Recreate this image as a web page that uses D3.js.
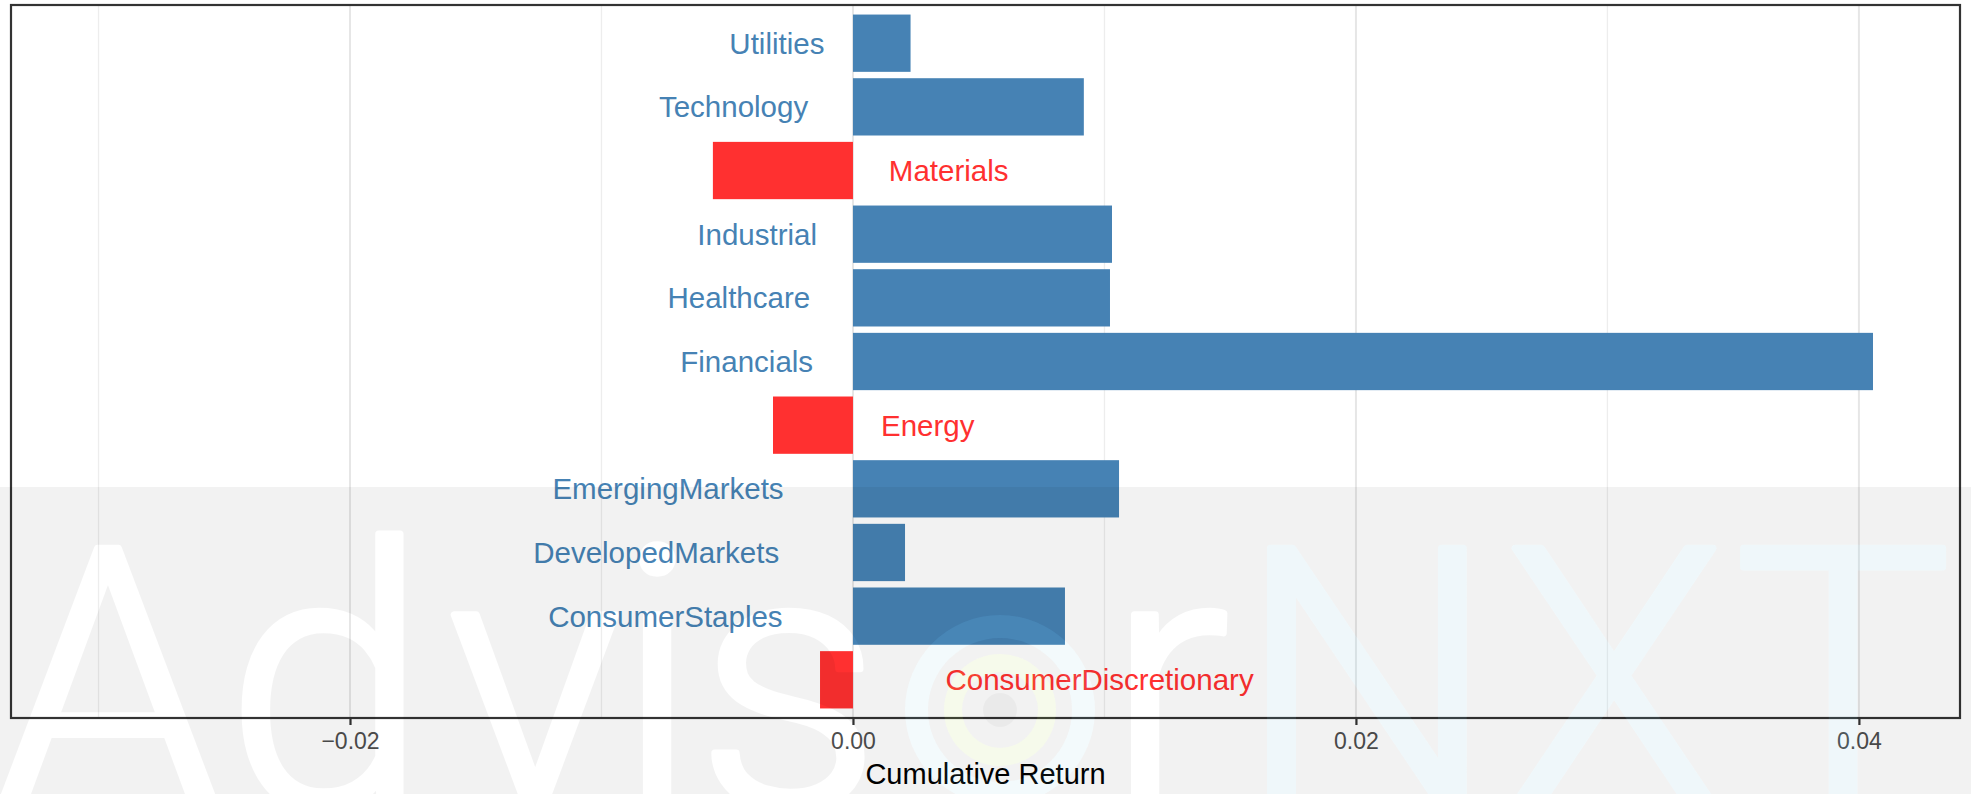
<!DOCTYPE html>
<html>
<head>
<meta charset="utf-8">
<script src="https://cdn.jsdelivr.net/npm/d3@7"></script>
<style>
  html, body { margin: 0; padding: 0; background: #ffffff; }
  svg { display: block; }
</style>
</head>
<body>
<svg id="chart" width="1971" height="794"></svg>
<script>
// ---- data ----
const categories = ["ConsumerDiscretionary", "ConsumerStaples", "DevelopedMarkets", "EmergingMarkets",
  "Energy", "Financials", "Healthcare", "Industrial", "Materials", "Technology", "Utilities"];
const returns = [-0.00131, 0.00843, 0.00207, 0.01058, -0.00318, 0.04056, 0.01022, 0.0103, -0.00557, 0.00918, 0.00229];
const xLimits = [-0.03348, 0.04402];
const majorTicks = [-0.02, 0.00, 0.02, 0.04];
const majorTickLabels = ["\u22120.02", "0.00", "0.02", "0.04"];
const minorTicks = [-0.03, -0.01, 0.01, 0.03];
const axisTitle = "Cumulative Return";
const watermarkLetters = ["A", "d", "v", "i", "s", "o", "r", "N", "X", "T"];

// ---- layout ----
const W = 1971, H = 794;
const panel = { left: 11, right: 1960, top: 5, bottom: 718 };
const posColor = "#4682B4", negColor = "#FF3030";
const font = "'Liberation Sans', Arial, Helvetica, sans-serif";

const svg = d3.select("#chart");
const rows = categories.map((c, i) => ({ cat: c, val: returns[i] }));

const x = d3.scaleLinear().domain(xLimits).range([panel.left, panel.right]);
const y = d3.scaleBand()
  .domain(categories.slice().reverse())
  .range([panel.top, panel.bottom])
  .paddingInner(0.1)
  .paddingOuter(0.15);

svg.append("rect").attr("width", W).attr("height", H).attr("fill", "#ffffff");

// grid
const g = svg.append("g");
g.selectAll("line.minor").data(minorTicks).join("line")
  .attr("x1", d => x(d)).attr("x2", d => x(d))
  .attr("y1", panel.top).attr("y2", panel.bottom)
  .attr("stroke", "#EDEDED").attr("stroke-width", 1.3);
g.selectAll("line.major").data(majorTicks).join("line")
  .attr("x1", d => x(d)).attr("x2", d => x(d))
  .attr("y1", panel.top).attr("y2", panel.bottom)
  .attr("stroke", "#E6E6E6").attr("stroke-width", 2);

// bars
g.selectAll("rect.bar").data(rows).join("rect")
  .attr("class", "bar")
  .attr("x", d => x(Math.min(0, d.val)))
  .attr("width", d => Math.abs(x(d.val) - x(0)))
  .attr("y", d => y(d.cat))
  .attr("height", y.bandwidth())
  .attr("fill", d => d.val >= 0 ? posColor : negColor);

// labels (hjust 1.3 for positive, -0.3 for negative, anchored at 0)
const labels = g.selectAll("text.lab").data(rows).join("text")
  .attr("class", "lab")
  .attr("font-family", font)
  .attr("font-size", 29.5)
  .attr("fill", d => d.val >= 0 ? posColor : negColor)
  .attr("y", d => y(d.cat) + y.bandwidth() / 2)
  .attr("dy", "0.36em")
  .attr("text-anchor", "start")
  .text(d => d.cat);
labels.each(function(d) {
  const w = this.getComputedTextLength();
  const x0 = x(0);
  d3.select(this).attr("x", d.val >= 0 ? x0 - 1.3 * w : x0 + 0.3 * w);
});

// panel border
svg.append("rect")
  .attr("x", panel.left).attr("y", panel.top)
  .attr("width", panel.right - panel.left).attr("height", panel.bottom - panel.top)
  .attr("fill", "none").attr("stroke", "#333333").attr("stroke-width", 2.2);

// x axis
const axis = d3.axisBottom(x)
  .tickValues(majorTicks)
  .tickFormat((d, i) => majorTickLabels[i])
  .tickSize(7)
  .tickPadding(6);
const ax = svg.append("g").attr("transform", `translate(0,${panel.bottom})`).call(axis);
ax.select(".domain").remove();
ax.selectAll(".tick line").attr("stroke", "#333333").attr("stroke-width", 2.2);
ax.selectAll(".tick text")
  .attr("font-family", font).attr("font-size", 23).attr("fill", "#4D4D4D")
  .attr("dy", null).attr("y", 31);

svg.append("text")
  .attr("x", (panel.left + panel.right) / 2).attr("y", 784)
  .attr("text-anchor", "middle")
  .attr("font-family", font).attr("font-size", 29).attr("fill", "#000000")
  .text(axisTitle);

// ---- watermark ----
const wmTop = 487, wmBaseline = 807, wmSize = 364;
const wmX = [108, 327, 535, 657, 789, 1000, 1168, 1367, 1614, 1843];
const logo = { cx: 1000, cy: 710 };
const wmFont = "Roboto, 'Open Sans', sans-serif";
const defs = svg.append("defs");
const mask = defs.append("mask").attr("id", "wmMask")
  .attr("maskUnits", "userSpaceOnUse").attr("x", 0).attr("y", 0).attr("width", W).attr("height", H);
mask.append("rect").attr("width", W).attr("height", H).attr("fill", "white");
const mt = mask.append("text")
  .attr("font-family", wmFont).attr("font-weight", 300)
  .attr("font-size", wmSize).attr("fill", "black")
  .attr("stroke", "black").attr("stroke-width", 7).attr("stroke-linejoin", "round");
watermarkLetters.forEach((ch, i) => {
  if (ch === "o") return;
  mt.append("tspan").attr("x", wmX[i]).attr("y", wmBaseline).attr("text-anchor", "middle").text(ch);
});
mask.append("circle").attr("cx", logo.cx).attr("cy", logo.cy).attr("r", 95).attr("fill", "black");
mask.append("circle").attr("cx", logo.cx).attr("cy", logo.cy).attr("r", 72).attr("fill", "white");
mask.append("circle").attr("cx", logo.cx).attr("cy", logo.cy).attr("r", 56).attr("fill", "black");
mask.append("circle").attr("cx", logo.cx).attr("cy", logo.cy).attr("r", 38).attr("fill", "white");

svg.append("rect")
  .attr("x", 0).attr("y", wmTop).attr("width", W).attr("height", H - wmTop)
  .attr("fill", "#000000").attr("fill-opacity", 0.05)
  .attr("mask", "url(#wmMask)");

// tinted NXT letters (group opacity so stroke and fill composite once)
const tint = svg.append("text")
  .attr("font-family", wmFont).attr("font-weight", 300)
  .attr("font-size", wmSize).attr("fill", "#69B9D7")
  .attr("stroke", "#69B9D7").attr("stroke-width", 7).attr("stroke-linejoin", "round")
  .attr("opacity", 0.1);
watermarkLetters.forEach((ch, i) => {
  if (i < 7) return;
  tint.append("tspan").attr("x", wmX[i]).attr("y", wmBaseline).attr("text-anchor", "middle").text(ch);
});
// logo ring tints
svg.append("path")
  .attr("d", d3.arc()({ innerRadius: 72, outerRadius: 95, startAngle: 0, endAngle: 2 * Math.PI }))
  .attr("transform", `translate(${logo.cx},${logo.cy})`)
  .attr("fill", "#69B9D7").attr("fill-opacity", 0.08);
svg.append("path")
  .attr("d", d3.arc()({ innerRadius: 38, outerRadius: 56, startAngle: 0, endAngle: 2 * Math.PI }))
  .attr("transform", `translate(${logo.cx},${logo.cy})`)
  .attr("fill", "#A5CD37").attr("fill-opacity", 0.1);
svg.append("circle").attr("cx", logo.cx).attr("cy", logo.cy).attr("r", 17)
  .attr("fill", "#000000").attr("fill-opacity", 0.03);
</script>
</body>
</html>
